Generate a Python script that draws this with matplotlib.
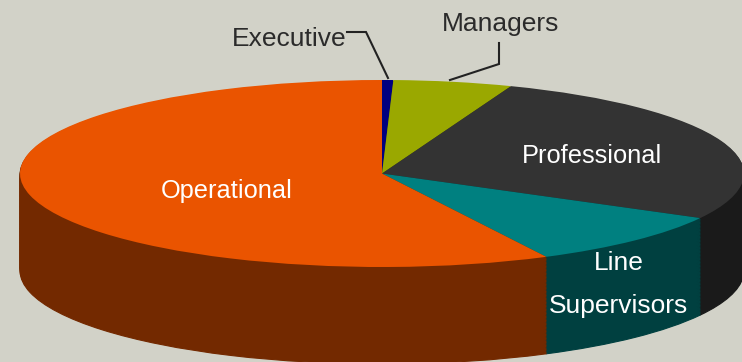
import matplotlib
matplotlib.use("Agg")
import matplotlib.pyplot as plt
from matplotlib.lines import Line2D

plt.rcParams['font.family'] = ['Liberation Sans', 'DejaVu Sans']

W, H = 742, 362
BG = '#D2D2C8'

# share of staff (percent)
categories = ['Executive', 'Managers', 'Professional', 'Line Supervisors', 'Operational']
shares = [0.5, 5.3, 27.1, 9.6, 57.5]
top_colors = ['#000080', '#9AA800', '#333333', '#008080', '#EA5400']
wall_colors = ['#000040', '#4D5400', '#1A1A1A', '#004040', '#732900']

# ellipse of the pie top in pixels
cx, cy, rx, ry = 382, 173.5, 362, 93.5
depth = 97
n_layers = 70

fig = plt.figure(figsize=(W / 100, H / 100), dpi=100, facecolor=BG)
ax = fig.add_axes([0, 0, 1, 1])

# side wall: stack of pies going up, then the top on it
for k in range(n_layers, 0, -1):
    off = depth / ry * k / n_layers
    wedges, _ = ax.pie(shares, colors=wall_colors, startangle=90, counterclock=False,
                       center=(0, -off), radius=1)
    for w, c in zip(wedges, wall_colors):
        w.set_edgecolor(c)
        w.set_linewidth(0.8)

ax.pie(shares, colors=top_colors, startangle=90, counterclock=False, center=(0, 0), radius=1)

ax.set_aspect('auto')
ax.set_xlim(-cx / rx, (W - cx) / rx)
ax.set_ylim((cy - H) / ry, cy / ry)
ax.set_axis_off()


def put(x, y, s, color, size=19):
    fig.text(x / W, 1 - y / H, s, color=color, fontsize=size, ha='center', va='center')


def leader(xs, ys):
    fig.add_artist(Line2D([x / W for x in xs], [1 - y / H for y in ys],
                          color='#222222', lw=1.5, solid_joinstyle='miter'))


put(289, 39, 'Executive', '#2B2B2B')
put(501, 24, 'Managers', '#2B2B2B')
put(592, 156, 'Professional', 'white', 18.3)
put(227, 191, 'Operational', 'white', 18.3)
put(619, 263, 'Line', 'white')
put(618, 306, 'Supervisors', 'white')

leader([347, 366, 388], [32, 32, 78])
leader([450, 499, 499], [80, 64, 43])

fig.savefig('out.png', dpi=100, facecolor=BG)
